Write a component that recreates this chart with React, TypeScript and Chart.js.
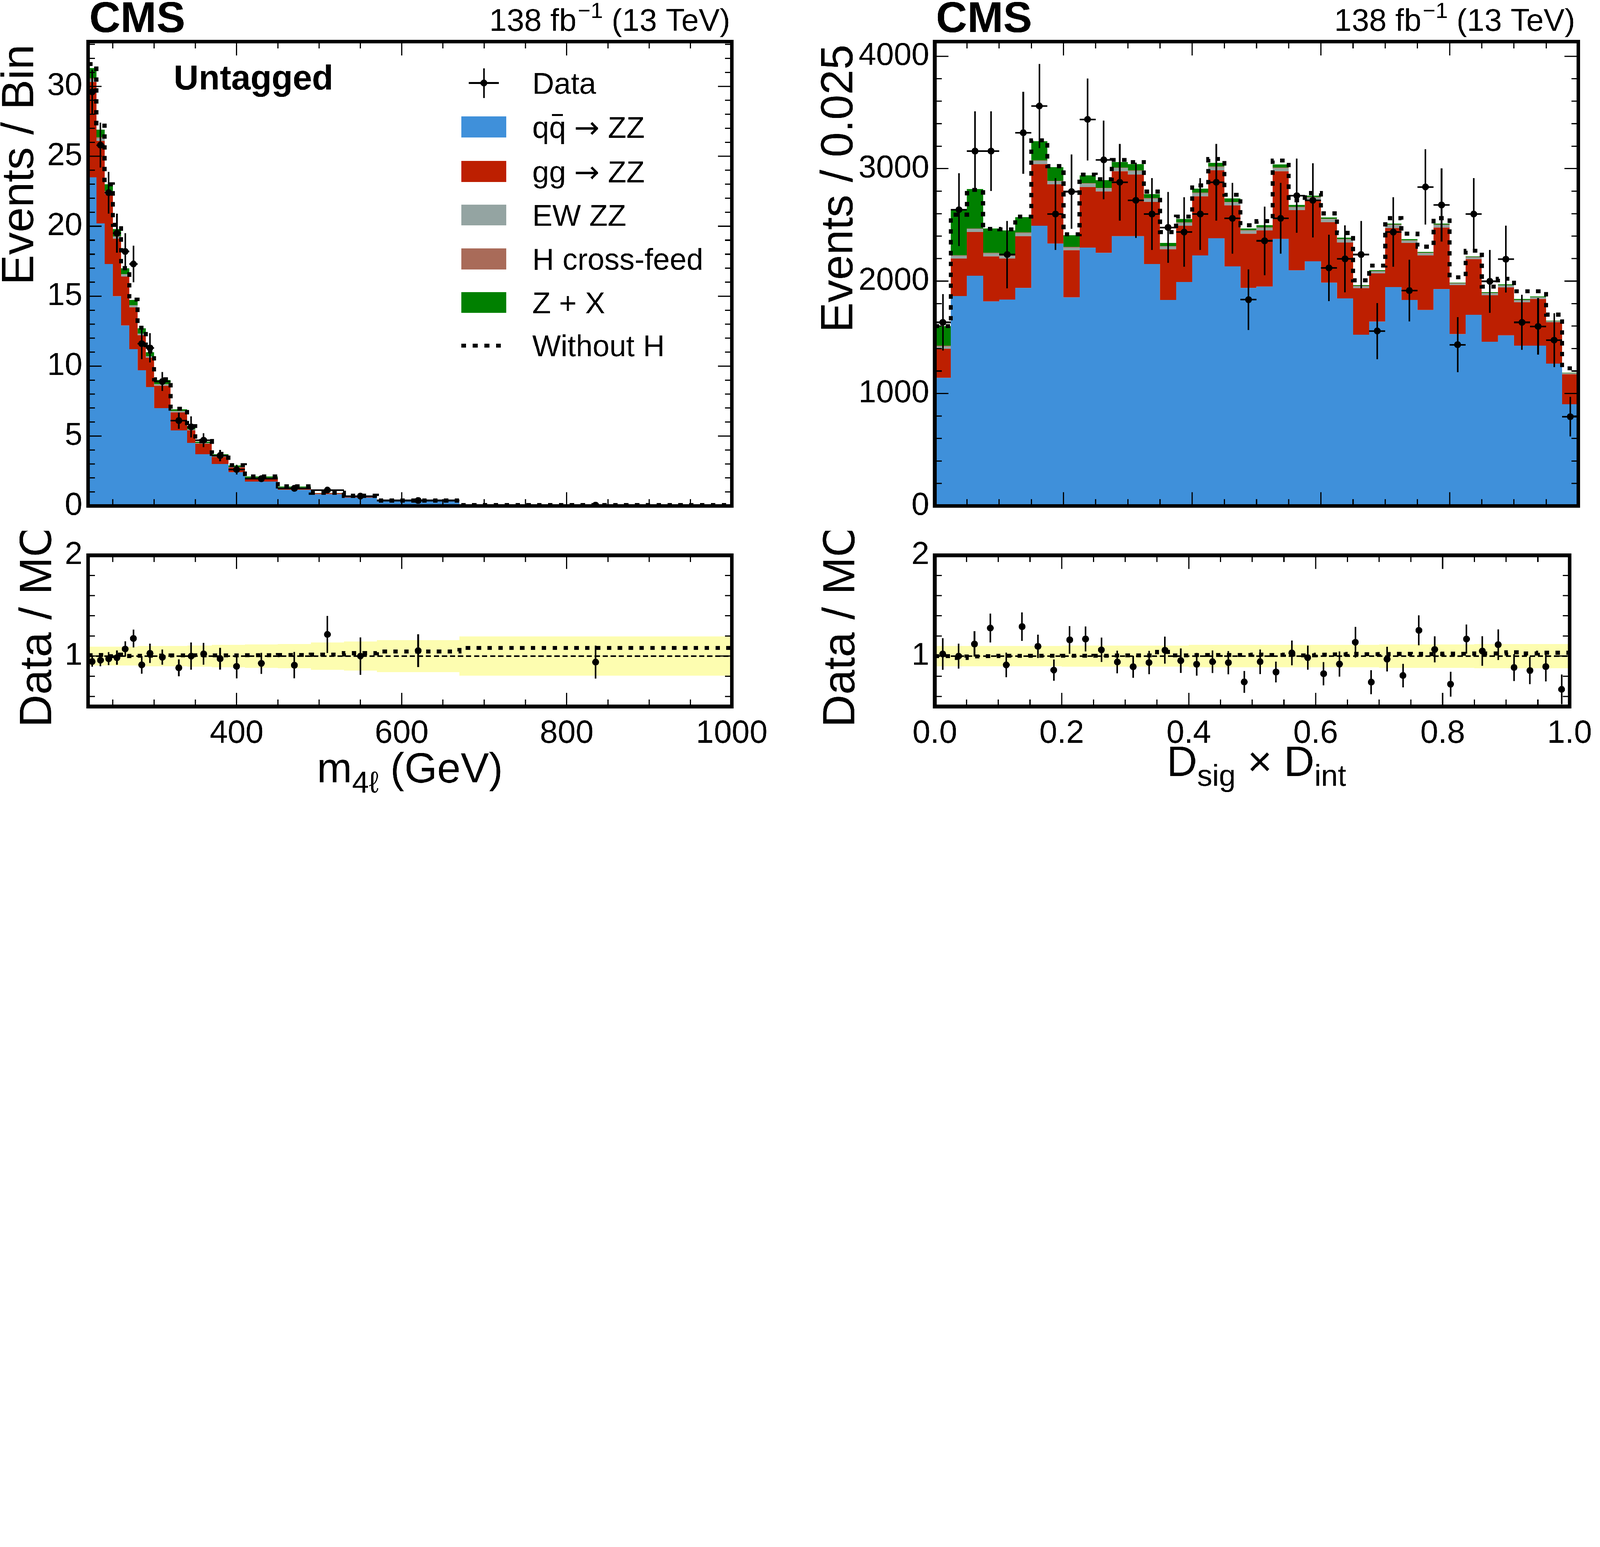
import { useEffect, useRef } from "react";
import { Chart, registerables, type ChartConfiguration } from "chart.js";

Chart.register(...registerables);

// ---- left panel: m4l, untagged ----
const mEdges = [220, 230, 240, 250, 260, 270, 280, 290, 300, 320, 340, 350, 370, 390, 410, 450, 490, 530, 570, 670, 1000];
const mQQ = [23.5, 20.2, 17.3, 15.0, 12.9, 11.2, 9.7, 8.5, 7.0, 5.4, 4.5, 3.7, 3.0, 2.4, 1.74, 1.15, 0.83, 0.6, 0.32, 0.06];
const mGG = [6.8, 5.9, 5.0, 4.1, 3.5, 3.0, 2.5, 2.1, 1.6, 1.3, 0.9, 0.75, 0.5, 0.35, 0.26, 0.15, 0.07, 0.06, 0.03, 0.005];
const mEW = [0.2, 0.2, 0.18, 0.16, 0.15, 0.13, 0.12, 0.1, 0.09, 0.07, 0.06, 0.05, 0.04, 0.03, 0.025, 0.02, 0.015, 0.01, 0.006, 0.002];
const mHX = [0.1, 0.05, 0.03, 0.02, 0.02, 0.02, 0.01, 0.01, 0.01, 0.01, 0.01, 0.01, 0.005, 0.005, 0.005, 0.005, 0.002, 0.002, 0.001, 0];
const mZX = [0.7, 0.55, 0.49, 0.52, 0.43, 0.37, 0.37, 0.29, 0.3, 0.12, 0.18, 0.09, 0.15, 0.11, 0.07, 0.06, 0.013, 0.028, 0.013, 0];
const mNoH = [31.6, 27.2, 23.0, 20.1, 17.0, 14.75, 12.75, 11.05, 9.05, 6.95, 5.7, 4.63, 3.72, 2.92, 2.12, 1.4, 0.945, 0.72, 0.387, 0.0725];
const mData = [29.6, 25.8, 22.4, 19.5, 18.2, 17.3, 11.6, 11.3, 8.9, 6.1, 5.65, 4.7, 3.6, 2.6, 1.95, 1.26, 1.13, 0.7, 0.39, 0.063];
const mErr = [1.6, 1.6, 1.5, 1.4, 1.3, 1.3, 1.1, 1.05, 0.68, 0.58, 0.76, 0.5, 0.4, 0.35, 0.22, 0.18, 0.17, 0.13, 0.06, 0.011];
const mBand = [0.095, 0.095, 0.095, 0.095, 0.095, 0.095, 0.1, 0.1, 0.1, 0.1, 0.105, 0.105, 0.11, 0.11, 0.115, 0.12, 0.135, 0.145, 0.16, 0.195];

// ---- right panel: Dsig x Dint ----
const dEdges = Array.from({ length: 41 }, (_, i) => i * 0.025);
const dQQ = [1140, 1868, 2048, 1819, 1835, 1938, 2491, 2334, 1855, 2297, 2250, 2400, 2400, 2153, 1832, 1993, 2228, 2380, 2131, 1938,
  1951, 2375, 2095, 2178, 1987, 1846, 1522, 1639, 1946, 1832, 1744, 1929, 1528, 1700, 1459, 1517, 1425, 1425, 1265, 905];
const dGG = [258, 332, 388, 401, 365, 462, 548, 525, 420, 540, 546, 576, 548, 551, 451, 498, 526, 604, 540, 484,
  499, 601, 535, 540, 537, 498, 415, 429, 526, 507, 484, 548, 437, 495, 415, 426, 388, 416, 368, 266];
const dEW = [22, 25, 28, 25, 25, 26, 30, 28, 24, 28, 28, 30, 30, 28, 24, 26, 28, 30, 28, 25,
  25, 28, 26, 24, 25, 24, 16, 17, 25, 20, 18, 21, 14, 16, 16, 16, 16, 14, 9, 8];
const dHX = [5, 5, 5, 5, 5, 5, 5, 5, 5, 5, 5, 5, 5, 5, 5, 5, 5, 5, 5, 5,
  5, 5, 5, 5, 5, 5, 4, 4, 5, 4, 4, 4, 3, 3, 3, 3, 3, 3, 2, 2];
const dZX = [175, 405, 349, 219, 220, 138, 170, 122, 104, 70, 69, 48, 56, 37, 27, 30, 36, 31, 31, 17,
  17, 28, 16, 12, 12, 13, 8, 9, 9, 9, 9, 9, 5, 6, 9, 9, 9, 5, 3, 4];
const dNoH = [1600, 2590, 2810, 2465, 2460, 2574, 3252, 3022, 2416, 2948, 2906, 3078, 3059, 2796, 2436, 2574, 2851, 3086, 2768, 2497,
  2533, 3072, 2718, 2782, 2602, 2428, 2007, 2137, 2560, 2422, 2306, 2560, 2034, 2270, 1951, 2021, 1910, 1910, 1702, 1224];
const dData = [1633, 2635, 3156, 3156, 2236, 3319, 3557, 2596, 2796, 3438, 3078, 2879, 2718, 2596, 2477, 2436, 2596, 2879, 2558, 1835,
  2358, 2558, 2760, 2718, 2117, 2198, 2236, 1556, 2436, 1915, 2837, 2677, 1434, 2596, 1998, 2195, 1633, 1597, 1475, 794];
const dErr = [250, 325, 355, 355, 300, 365, 375, 320, 330, 365, 350, 340, 335, 320, 315, 310, 320, 340, 315, 270,
  305, 315, 330, 330, 295, 298, 300, 250, 310, 275, 335, 325, 245, 320, 280, 298, 245, 252, 240, 176];
const dBand = [0.1, 0.1, 0.1, 0.1, 0.1, 0.1, 0.1, 0.1, 0.105, 0.105, 0.105, 0.105, 0.105, 0.105, 0.105, 0.105,
  0.11, 0.11, 0.11, 0.11, 0.11, 0.11, 0.11, 0.11, 0.11, 0.11, 0.11, 0.11, 0.115, 0.115, 0.115, 0.115, 0.115, 0.115,
  0.12, 0.12, 0.12, 0.12, 0.12, 0.12];

const COLORS = ["#3f90da", "#bd1f01", "#94a4a2", "#a96b59", "#008000"];
const SANS = '"Liberation Sans", "DejaVu Sans", sans-serif';

type Area = { left: number; top: number; right: number; bottom: number };
type Box = { x0: number; y0: number; w: number; h: number };

function steps(edges: number[], vals: number[]) {
  const p = vals.map((v, i) => ({ x: edges[i], y: v }));
  p.push({ x: edges[edges.length - 1], y: vals[vals.length - 1] });
  return p;
}

function stack(layers: number[][]) {
  const out: number[][] = [];
  layers.forEach((l, k) => out.push(l.map((v, i) => v + (k ? out[k - 1][i] : 0))));
  return out;
}

function framePlugin(xMaj: number[], xMin: number[], yMaj: number[], yMin: number[]) {
  return {
    id: "frame",
    afterDraw(chart: any) {
      const { ctx, chartArea: a, scales } = chart;
      ctx.save();
      ctx.strokeStyle = "#000";
      ctx.lineWidth = 6;
      const tk = (vals: number[], len: number, horiz: boolean) => {
        vals.forEach((v) => {
          if (horiz) {
            const px = scales.x.getPixelForValue(v);
            ctx.beginPath();
            ctx.moveTo(px, a.bottom); ctx.lineTo(px, a.bottom - len);
            ctx.moveTo(px, a.top); ctx.lineTo(px, a.top + len);
            ctx.stroke();
          } else {
            const py = scales.y.getPixelForValue(v);
            ctx.beginPath();
            ctx.moveTo(a.left, py); ctx.lineTo(a.left + len, py);
            ctx.moveTo(a.right, py); ctx.lineTo(a.right - len, py);
            ctx.stroke();
          }
        });
      };
      tk(xMaj, 68, true); tk(xMin, 34, true); tk(yMaj, 68, false); tk(yMin, 34, false);
      ctx.lineWidth = 18;
      ctx.strokeRect(a.left, a.top, a.right - a.left, a.bottom - a.top);
      ctx.restore();
    },
  };
}

function errPlugin(pts: { x: number; y: number; x0?: number; x1?: number; e: number }[]) {
  return {
    id: "errbars",
    afterDatasetsDraw(chart: any) {
      const { ctx, scales } = chart;
      ctx.save();
      ctx.strokeStyle = "#000";
      ctx.lineWidth = 8;
      pts.forEach((p) => {
        const px = scales.x.getPixelForValue(p.x);
        ctx.beginPath();
        ctx.moveTo(px, scales.y.getPixelForValue(p.y - p.e));
        ctx.lineTo(px, scales.y.getPixelForValue(p.y + p.e));
        if (p.x0 !== undefined && p.x1 !== undefined) {
          const py = scales.y.getPixelForValue(p.y);
          ctx.moveTo(scales.x.getPixelForValue(p.x0), py);
          ctx.lineTo(scales.x.getPixelForValue(p.x1), py);
        }
        ctx.stroke();
      });
      ctx.restore();
    },
  };
}

function textPlugin(box: Box, draw: (ctx: CanvasRenderingContext2D) => void) {
  return {
    id: "texts",
    afterDraw(chart: any) {
      const ctx = chart.ctx as CanvasRenderingContext2D;
      ctx.save();
      ctx.translate(-box.x0, -box.y0);
      ctx.fillStyle = "#000";
      ctx.strokeStyle = "#000";
      draw(ctx);
      ctx.restore();
    },
  };
}

function scales(box: Box, area: Area, xr: [number, number], yr: [number, number],
  xTicks: number[] | null, yTicks: number[], xFmt?: (v: number) => string) {
  return {
    x: {
      type: "linear" as const, min: xr[0], max: xr[1],
      grid: { display: false, drawTicks: false }, border: { display: false },
      afterFit: (s: any) => { s.height = box.h - area.bottom; },
      afterBuildTicks: (s: any) => { s.ticks = (xTicks || []).map((v) => ({ value: v })); },
      ticks: {
        display: !!xTicks, autoSkip: false, maxRotation: 0, padding: 40, color: "#000",
        font: { family: SANS, size: 160 },
        callback: (v: any) => (xFmt ? xFmt(Number(v)) : String(v)),
      },
    },
    y: {
      type: "linear" as const, min: yr[0], max: yr[1],
      grid: { display: false, drawTicks: false }, border: { display: false },
      afterFit: (s: any) => { s.width = area.left; },
      afterBuildTicks: (s: any) => { s.ticks = yTicks.map((v) => ({ value: v })); },
      ticks: {
        autoSkip: false, padding: 28, color: "#000", font: { family: SANS, size: 158 },
        callback: (v: any) => String(v),
      },
    },
  };
}

function baseOptions(box: Box, area: Area, sc: any) {
  return {
    responsive: false,
    animation: false as const,
    devicePixelRatio: 1,
    layout: { padding: { left: 0, top: area.top, right: box.w - area.right, bottom: 0 } },
    scales: sc,
    plugins: { legend: { display: false }, tooltip: { enabled: false } },
  };
}

function fillDatasets(edges: number[], layers: number[][]) {
  return stack(layers).map((c, k) => ({
    data: steps(edges, c), stepped: true, borderWidth: 0, pointRadius: 0,
    backgroundColor: COLORS[k], fill: k === 0 ? "origin" : "-1", order: 10,
  }));
}

function topConfig(box: Box, area: Area, edges: number[], layers: number[][], noH: number[],
  data: number[], err: number[], yr: [number, number], yTicks: number[], yMinor: number[],
  xMaj: number[], xMin: number[], texts: (ctx: CanvasRenderingContext2D) => void): ChartConfiguration {
  const cen = data.map((_, i) => (edges[i] + edges[i + 1]) / 2);
  const sc = scales(box, area, [edges[0], edges[edges.length - 1]], yr, null, yTicks);
  const datasets: any[] = [
    ...fillDatasets(edges, layers),
    { data: steps(edges, noH), stepped: true, borderColor: "#000", borderWidth: 20, borderDash: [22, 32], pointRadius: 0, fill: false, order: 5 },
    { data: data.map((v, i) => ({ x: cen[i], y: v })), showLine: false, pointRadius: 17, backgroundColor: "#000", borderWidth: 0, order: 1 },
  ];
  return {
    type: "line",
    data: { datasets },
    options: baseOptions(box, area, sc) as any,
    plugins: [
      errPlugin(data.map((v, i) => ({ x: cen[i], y: v, x0: edges[i], x1: edges[i + 1], e: err[i] }))),
      framePlugin(xMaj, xMin, yTicks, yMinor),
      textPlugin(box, texts),
    ],
  };
}

function ratioConfig(box: Box, area: Area, edges: number[], layers: number[][], noH: number[],
  data: number[], err: number[], band: number[], xTicks: number[], xMin: number[],
  xFmt: (v: number) => string, texts: (ctx: CanvasRenderingContext2D) => void): ChartConfiguration {
  const tot = stack(layers)[layers.length - 1];
  const cen = data.map((_, i) => (edges[i] + edges[i + 1]) / 2);
  const xr: [number, number] = [edges[0], edges[edges.length - 1]];
  const sc = scales(box, area, xr, [0.5, 2], xTicks, [1, 2], xFmt);
  const datasets: any[] = [
    { data: steps(edges, band.map((b) => 1 - b)), stepped: true, borderWidth: 0, pointRadius: 0, fill: false, order: 10 },
    { data: steps(edges, band.map((b) => 1 + b)), stepped: true, borderWidth: 0, pointRadius: 0, fill: "-1", backgroundColor: "#fdfdb0", order: 10 },
    { data: [{ x: xr[0], y: 1 }, { x: xr[1], y: 1 }], borderColor: "#000", borderWidth: 8, borderDash: [26, 14], pointRadius: 0, fill: false, order: 6 },
    { data: steps(edges, noH.map((v, i) => v / tot[i])), stepped: true, borderColor: "#000", borderWidth: 20, borderDash: [22, 32], pointRadius: 0, fill: false, order: 5 },
    { data: data.map((v, i) => ({ x: cen[i], y: v / tot[i] })), showLine: false, pointRadius: 17, backgroundColor: "#000", borderWidth: 0, order: 1 },
  ];
  return {
    type: "line",
    data: { datasets },
    options: baseOptions(box, area, sc) as any,
    plugins: [
      errPlugin(data.map((v, i) => ({ x: cen[i], y: v / tot[i], e: err[i] / tot[i] }))),
      framePlugin(xTicks, xMin, [1, 2], [0.6, 0.8, 1.2, 1.4, 1.6, 1.8]),
      textPlugin(box, texts),
    ],
  };
}

// ---- text helpers ----
function vtitle(ctx: CanvasRenderingContext2D, s: string, x: number, y: number, align: CanvasTextAlign) {
  ctx.save();
  ctx.translate(x, y);
  ctx.rotate(-Math.PI / 2);
  ctx.font = `224px ${SANS}`;
  ctx.textAlign = align;
  ctx.textBaseline = "alphabetic";
  ctx.fillText(s, 0, 0);
  ctx.restore();
}

function header(ctx: CanvasRenderingContext2D, left: number, right: number) {
  ctx.textBaseline = "alphabetic";
  ctx.font = `bold 215px ${SANS}`;
  ctx.textAlign = "left";
  ctx.fillText("CMS", left + 6, 160);
  ctx.textAlign = "right";
  ctx.font = `156px ${SANS}`;
  const tail = " (13 TeV)";
  ctx.fillText(tail, right, 153);
  let x = right - ctx.measureText(tail).width;
  ctx.font = `110px ${SANS}`;
  ctx.fillText("\u22121", x, 90);
  x -= ctx.measureText("\u22121").width + 6;
  ctx.font = `156px ${SANS}`;
  ctx.fillText("138 fb", x, 153);
}

function arrowLabel(ctx: CanvasRenderingContext2D, a: string, x: number, y: number) {
  ctx.font = `150px ${SANS}`;
  ctx.fillText(a, x, y);
  x += ctx.measureText(a + " ").width;
  ctx.font = `150px "DejaVu Sans", sans-serif`;
  ctx.fillText("\u2192", x, y);
  x += ctx.measureText("\u2192").width;
  ctx.font = `150px ${SANS}`;
  ctx.fillText(" ZZ", x, y);
}

function legend(ctx: CanvasRenderingContext2D) {
  const rows = [413, 632, 853, 1070, 1288, 1505, 1719];
  ctx.lineWidth = 8;
  ctx.beginPath();
  ctx.moveTo(2331, 413); ctx.lineTo(2482, 413);
  ctx.moveTo(2407, 340); ctx.lineTo(2407, 487);
  ctx.stroke();
  ctx.beginPath(); ctx.arc(2407, 413, 17, 0, Math.PI * 2); ctx.fill();
  COLORS.forEach((c, k) => {
    ctx.fillStyle = c;
    ctx.fillRect(2294, rows[k + 1] - 52, 225, 104);
  });
  ctx.fillStyle = "#000";
  ctx.save();
  ctx.lineWidth = 20; ctx.setLineDash([24, 34]);
  ctx.beginPath(); ctx.moveTo(2294, 1719); ctx.lineTo(2519, 1719); ctx.stroke();
  ctx.restore();
  ctx.font = `150px ${SANS}`;
  ctx.textAlign = "left";
  ctx.textBaseline = "alphabetic";
  const labels = ["Data", "", "", "EW ZZ", "H cross-feed", "Z + X", "Without H"];
  labels.forEach((s, k) => s && ctx.fillText(s, 2648, rows[k] + 54));
  const wq = ctx.measureText("q").width;
  ctx.fillRect(2648 + wq + 14, rows[1] - 64, wq - 28, 10);
  arrowLabel(ctx, "qq", 2648, rows[1] + 54);
  arrowLabel(ctx, "gg", 2648, rows[2] + 54);
  ctx.font = `bold 172px ${SANS}`;
  ctx.fillText("Untagged", 864, 445);
}

function subTitle(ctx: CanvasRenderingContext2D, parts: [string, boolean][], cx: number, y: number) {
  const big = `210px ${SANS}`, small = `150px ${SANS}`;
  let w = 0;
  parts.forEach(([s, sub]) => { ctx.font = sub ? small : big; w += ctx.measureText(s).width; });
  let x = cx - w / 2;
  ctx.textAlign = "left";
  ctx.textBaseline = "alphabetic";
  parts.forEach(([s, sub]) => {
    ctx.font = sub ? small : big;
    ctx.fillText(s, x, sub ? y + 50 : y);
    x += ctx.measureText(s).width;
  });
}

// ---- geometry (reference pixels) ----
const W = 7959, H = 3961;
const LT: Box = { x0: 0, y0: 0, w: 3950, h: 2640 };
const LB: Box = { x0: 0, y0: 2640, w: 3950, h: 1321 };
const RT: Box = { x0: 3950, y0: 0, w: 4009, h: 2640 };
const RB: Box = { x0: 3950, y0: 2640, w: 4009, h: 1321 };
const topArea = (b: Box, l: number, r: number): Area => ({ left: l - b.x0, right: r - b.x0, top: 207, bottom: 2545 });
const botArea = (b: Box, l: number, r: number): Area => ({ left: l - b.x0, right: r - b.x0, top: 2736 - b.y0, bottom: 3515 - b.y0 });

const range = (a: number, b: number, s: number) => {
  const out: number[] = [];
  for (let v = a; v <= b + 1e-9; v += s) out.push(Math.round(v * 1000) / 1000);
  return out;
};

const mLayers = [mQQ, mGG, mEW, mHX, mZX];
const dLayers = [dQQ, dGG, dEW, dHX, dZX];
const mXMaj = [400, 600, 800, 1000];
const mXMin = range(250, 950, 50).filter((v) => v % 200 !== 0);
const dXMaj = range(0, 1, 0.2);
const dXMin = range(0.05, 0.95, 0.05).filter((v) => Math.abs(v * 5 - Math.round(v * 5)) > 1e-6);

function makeConfigs(): [Box, ChartConfiguration][] {
  return [
    [LT, topConfig(LT, topArea(LT, 438, 3640), mEdges, mLayers, mNoH, mData, mErr, [0, 33.2],
      range(0, 30, 5), range(1, 33, 1).filter((v) => v % 5 !== 0), mXMaj, mXMin,
      (ctx) => { header(ctx, 438, 3632); vtitle(ctx, "Events / Bin", 165, 222, "right"); legend(ctx); })],
    [LB, ratioConfig(LB, botArea(LB, 438, 3640), mEdges, mLayers, mNoH, mData, mErr, mBand, mXMaj, mXMin,
      (v) => String(v),
      (ctx) => { vtitle(ctx, "Data / MC", 254, 3114, "center"); subTitle(ctx, [["m", false], ["4\u2113", true], [" (GeV)", false]], 2039, 3893); })],
    [RT, topConfig(RT, topArea(RT, 4650, 7851), dEdges, dLayers, dNoH, dData, dErr, [0, 4130],
      range(0, 4000, 1000), range(200, 4000, 200).filter((v) => v % 1000 !== 0), dXMaj, dXMin,
      (ctx) => { header(ctx, 4650, 7835); vtitle(ctx, "Events / 0.025", 4240, 222, "right"); })],
    [RB, ratioConfig(RB, botArea(RB, 4650, 7851), dEdges, dLayers, dNoH, dData, dErr, dBand, dXMaj, dXMin,
      (v) => v.toFixed(1),
      (ctx) => { vtitle(ctx, "Data / MC", 4250, 3114, "center"); subTitle(ctx, [["D", false], ["sig", true], [" \u00d7 D", false], ["int", true]], 6250, 3860); })],
  ];
}

function Panel({ box, config }: { box: Box; config: ChartConfiguration }) {
  const ref = useRef<HTMLCanvasElement>(null);
  useEffect(() => {
    if (!ref.current) return;
    const chart = new Chart(ref.current, config);
    return () => chart.destroy();
  }, [config]);
  return (
    <canvas ref={ref} width={box.w} height={box.h}
      style={{ position: "absolute", left: box.x0, top: box.y0, width: box.w, height: box.h }} />
  );
}

const CONFIGS = makeConfigs();

export default function App() {
  useEffect(() => { document.body.style.margin = "0"; }, []);
  // the window may be narrower than the reference: scale the whole figure to fit
  const k = Math.min(1, window.innerWidth / W, window.innerHeight / H);
  return (
    <div style={{ width: W * k, height: H * k, overflow: "hidden" }}>
      <div style={{ position: "relative", width: W, height: H, background: "#fff", transform: `scale(${k})`, transformOrigin: "0 0" }}>
        {CONFIGS.map(([b, c], i) => <Panel key={i} box={b} config={c} />)}
      </div>
    </div>
  );
}
